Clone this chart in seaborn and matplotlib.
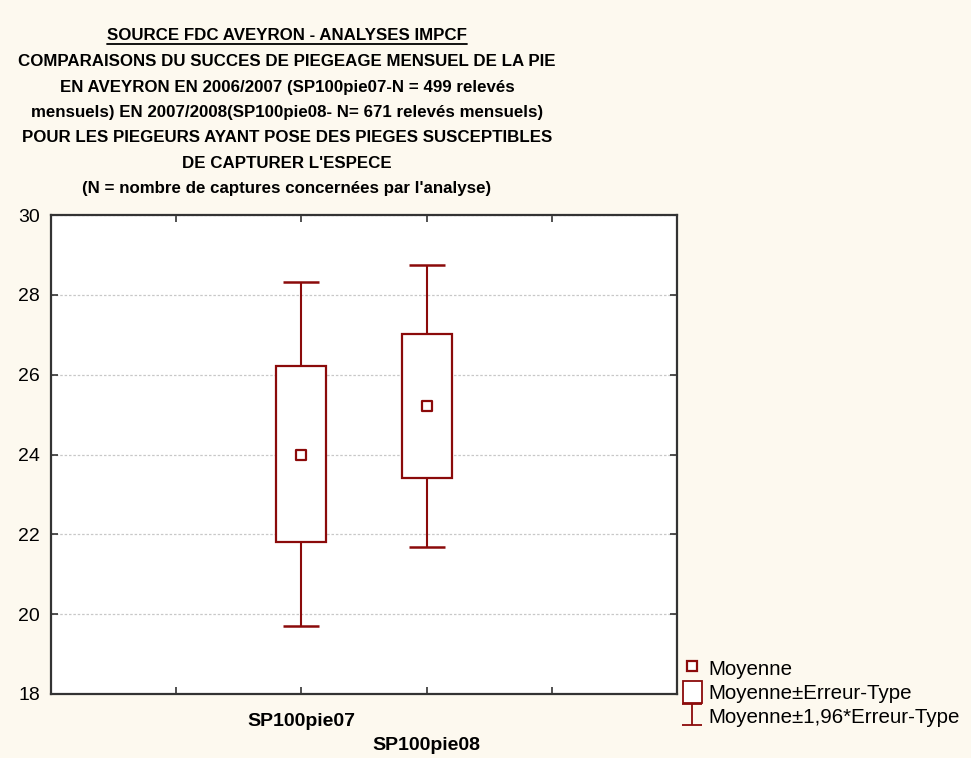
import matplotlib
matplotlib.use("Agg")
import matplotlib.pyplot as plt
import seaborn as sns
import pandas as pd
import numpy as np
from matplotlib.lines import Line2D
from matplotlib.patches import Rectangle

# ---- data ----
categories = ["SP100pie07", "SP100pie08"]
means = [23.99, 25.22]
se_low = [21.80, 23.42]      # Moyenne - Erreur-Type
se_high = [26.21, 27.03]     # Moyenne + Erreur-Type
ci_low = [19.70, 21.69]      # Moyenne - 1,96*Erreur-Type
ci_high = [28.31, 28.75]     # Moyenne + 1,96*Erreur-Type
y_ticks = [18, 20, 22, 24, 26, 28, 30]

title_lines = [
    "COMPARAISONS DU SUCCES DE PIEGEAGE MENSUEL DE LA PIE",
    "EN AVEYRON EN 2006/2007 (SP100pie07-N = 499 relevés",
    "mensuels) EN 2007/2008(SP100pie08- N= 671 relevés mensuels)",
    "POUR LES PIEGEURS AYANT POSE DES PIEGES SUSCEPTIBLES",
    "DE CAPTURER L'ESPECE",
    "(N = nombre de captures concernées par l'analyse)",
]
source_line = "SOURCE FDC AVEYRON - ANALYSES IMPCF"
legend_labels = ["Moyenne", "Moyenne±Erreur-Type", "Moyenne±1,96*Erreur-Type"]

df = pd.DataFrame({"cat": categories, "mean": means, "se_low": se_low,
                   "se_high": se_high, "ci_low": ci_low, "ci_high": ci_high})
df["x"] = np.arange(len(df))

sns.set_theme(style="white")
plt.rcParams["font.family"] = ["Liberation Sans", "DejaVu Sans"]
plt.rcParams["text.color"] = "black"
plt.rcParams["xtick.color"] = "black"
plt.rcParams["ytick.color"] = "black"

RED = "#8b0a0a"
BG = "#fdf9ef"
W, H = 971, 758

fig = plt.figure(figsize=(W/100, H/100), dpi=100, facecolor=BG)
ax = fig.add_axes([51/W, 1-694/H, (677-51)/W, (694-215)/H])
ax.set_facecolor("white")

# whiskers (mean ± 1.96 SE)
ax.errorbar(df["x"], df["mean"],
            yerr=[df["mean"] - df["ci_low"], df["ci_high"] - df["mean"]],
            fmt="none", ecolor=RED, elinewidth=1.5, capsize=13, capthick=1.8, zorder=2)
# boxes (mean ± SE)
ax.bar(df["x"], df["se_high"] - df["se_low"], bottom=df["se_low"], width=0.4,
       facecolor="white", edgecolor=RED, linewidth=1.6, zorder=3)
# mean markers
sns.scatterplot(data=df, x="x", y="mean", marker="s", s=55, facecolor="white",
                edgecolor=RED, linewidth=1.6, ax=ax, zorder=4, legend=False)

ax.set_xlim(-2, 3)
ax.set_ylim(18, 30)
ax.set_yticks(y_ticks)
ax.set_yticklabels([str(t) for t in y_ticks], fontsize=14, color="black")
ax.set_xticks(np.arange(-2, 4))
ax.set_xticklabels(["", ""] + categories + ["", ""], fontsize=14,
                   fontweight="bold", color="black")
ax.xaxis.get_major_ticks()[2].set_pad(13.5)
ax.xaxis.get_major_ticks()[3].set_pad(31)
ax.set_xlabel("")
ax.set_ylabel("")
ax.grid(axis="y", color="#c8c8c8", linestyle=(0, (2, 1.5)), linewidth=0.9)
ax.grid(axis="x", visible=False)
ax.tick_params(direction="in", length=5, width=1.2, color="#333333",
               top=True, right=True, left=True, bottom=True, labelcolor="black")
ax.tick_params(axis="y", pad=8)
for s in ax.spines.values():
    s.set_color("#333333")
    s.set_linewidth(1.6)

# titles
t0 = fig.text(287/W, 1-35/H, source_line, ha="center", va="center",
              fontsize=12.2, fontweight="bold", color="black")
fig.canvas.draw()
bb = t0.get_window_extent()
fig.add_artist(Line2D([bb.x0/W, bb.x1/W], [1-44/H, 1-44/H],
                      color="black", linewidth=1.3, transform=fig.transFigure))
for i, line in enumerate(title_lines):
    fig.text(287/W, 1-(62 + 25.3*i)/H, line, ha="center", va="center",
             fontsize=12.2, fontweight="bold", color="black")

# legend
h_mean = Line2D([], [], marker="s", markersize=7, markerfacecolor="white",
                markeredgecolor=RED, markeredgewidth=1.6, linestyle="none")
h_box = Rectangle((0, 0), 1, 1, facecolor="white", edgecolor=RED, linewidth=1.3)
eb = ax.errorbar([np.nan], [np.nan], yerr=[[1]], fmt="none", ecolor=RED,
                 elinewidth=1.3, capsize=7, capthick=1.3)
leg = fig.legend([h_mean, h_box, eb], legend_labels,
                 loc="upper left", bbox_to_anchor=(683/W, 1-657/H),
                 frameon=False, fontsize=14.8, handlelength=0.9, handleheight=1.25,
                 handletextpad=0.35, labelspacing=0.12, borderpad=0, borderaxespad=0)
for t in leg.get_texts():
    t.set_color("black")

fig.savefig("out.png", dpi=100, facecolor=BG)
